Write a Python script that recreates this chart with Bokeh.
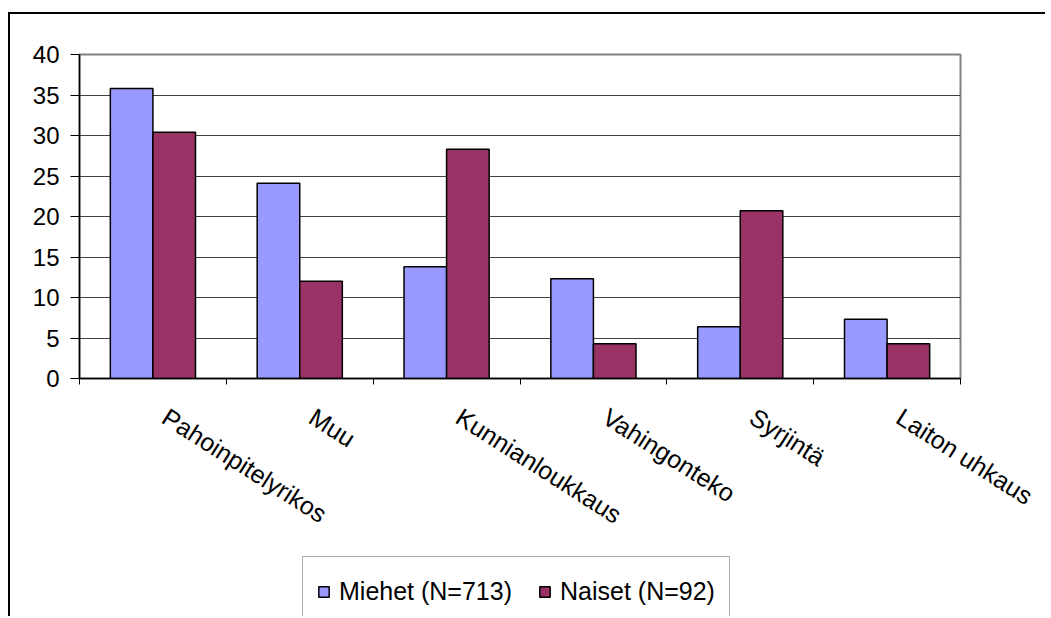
import math
from bokeh.plotting import figure
from bokeh.layouts import column
from bokeh.models import (FactorRange, FixedTicker, LinearAxis, ColumnDataSource, Range1d,
                          Legend, LegendItem)
from bokeh.transform import dodge
from bokeh.embed import file_html
from bokeh.resources import INLINE

categories = ["Pahoinpitelyrikos", "Muu", "Kunnianloukkaus", "Vahingonteko", "Syrjintä", "Laiton uhkaus"]
miehet = [35.8, 24.1, 13.8, 12.3, 6.4, 7.3]
naiset = [30.4, 12.0, 28.3, 4.3, 20.7, 4.3]
series_labels = ["Miehet (N=713)", "Naiset (N=92)"]
series_colors = ["#9999FF", "#993366"]
y_ticks = [0, 5, 10, 15, 20, 25, 30, 35, 40]

FONT = "Liberation Sans"

source = ColumnDataSource(dict(cat=categories, miehet=miehet, naiset=naiset))
series_fields = ["miehet", "naiset"]

p = figure(x_range=FactorRange(*categories, range_padding=0),
           y_range=Range1d(y_ticks[0], y_ticks[-1]),
           width=1035, height=536, output_backend="svg", toolbar_location=None,
           x_axis_location=None,
           min_border_left=69, min_border_top=40, min_border_right=85, min_border_bottom=172)

bw = 0.29
p.vbar(x=dodge("cat", -bw / 2, range=p.x_range), top="miehet", width=bw, source=source,
       fill_color=series_colors[0], line_color="black", line_width=1.5)
p.vbar(x=dodge("cat", bw / 2, range=p.x_range), top="naiset", width=bw, source=source,
       fill_color=series_colors[1], line_color="black", line_width=1.5)

# axis with tick marks at category boundaries (synthetic coordinates of the factor range)
tick_axis = LinearAxis(ticker=FixedTicker(ticks=list(range(len(categories) + 1))),
                       major_tick_out=6, major_tick_in=0,
                       major_tick_line_color="black", major_tick_line_width=1,
                       minor_tick_line_color=None,
                       axis_line_color="black", axis_line_width=1.5,
                       major_label_text_font_size="1px", major_label_text_color=None,
                       major_label_standoff=0)
p.add_layout(tick_axis, "below")

# rotated category labels, nudged slightly right of the category centres
label_shift = 0.082
label_pos = [i + 0.5 + label_shift for i in range(len(categories))]
label_axis = LinearAxis(ticker=FixedTicker(ticks=label_pos),
                        major_label_overrides={pos: c for pos, c in zip(label_pos, categories)},
                        major_tick_line_color=None, major_tick_out=0, major_tick_in=0,
                        minor_tick_line_color=None,
                        axis_line_color=None,
                        major_label_orientation=-0.567,
                        major_label_text_font=FONT,
                        major_label_text_font_size="25px",
                        major_label_text_color="black",
                        major_label_standoff=30)
p.add_layout(label_axis, "below")

yax = p.yaxis[0]
yax.ticker = FixedTicker(ticks=y_ticks)
yax.major_tick_out = 9
yax.major_tick_in = 0
yax.minor_tick_line_color = None
yax.axis_line_color = "black"
yax.axis_line_width = 1.5
yax.major_tick_line_color = "black"
yax.major_label_text_font = FONT
yax.major_label_text_font_size = "24px"
yax.major_label_text_color = "black"
yax.major_label_standoff = 11

p.xgrid.visible = False
p.ygrid.ticker = FixedTicker(ticks=y_ticks)
p.ygrid.grid_line_color = "#404040"
p.ygrid.grid_line_width = 1

p.outline_line_color = "#808080"
p.outline_line_width = 2
p.background_fill_color = "white"
p.border_fill_color = "white"

# legend strip below the chart (its swatch renderers are hidden, only the legend shows)
q = figure(x_range=FactorRange(*categories), y_range=Range1d(-2, -1),
           width=1035, height=66, output_backend="svg", toolbar_location=None,
           x_axis_location=None, y_axis_location=None,
           min_border_left=0, min_border_right=0, min_border_top=0, min_border_bottom=0,
           outline_line_color=None)
q.grid.visible = False
swatches = [q.vbar(x="cat", top=f, width=0.5, source=source, visible=False,
                   fill_color=c, line_color="black", line_width=1.5)
            for f, c in zip(series_fields, series_colors)]
leg = Legend(items=[LegendItem(label=lab, renderers=[r]) for lab, r in zip(series_labels, swatches)],
             orientation="horizontal", location=(223, -10),
             padding=14, margin=0, label_height=40,
             glyph_width=13, glyph_height=13, label_standoff=9, spacing=26,
             border_line_color="#555555", border_line_width=1.5,
             label_text_font=FONT, label_text_font_size="25px", label_text_color="black",
             background_fill_alpha=1, inactive_fill_alpha=0)
q.add_layout(leg, "center")

layout = column(p, q, spacing=0)
layout.styles = {"border-left": "2px solid black", "border-top": "2px solid black",
                 "margin-top": "12px", "margin-left": "8px"}

open("out.html", "w").write(file_html(layout, INLINE))
